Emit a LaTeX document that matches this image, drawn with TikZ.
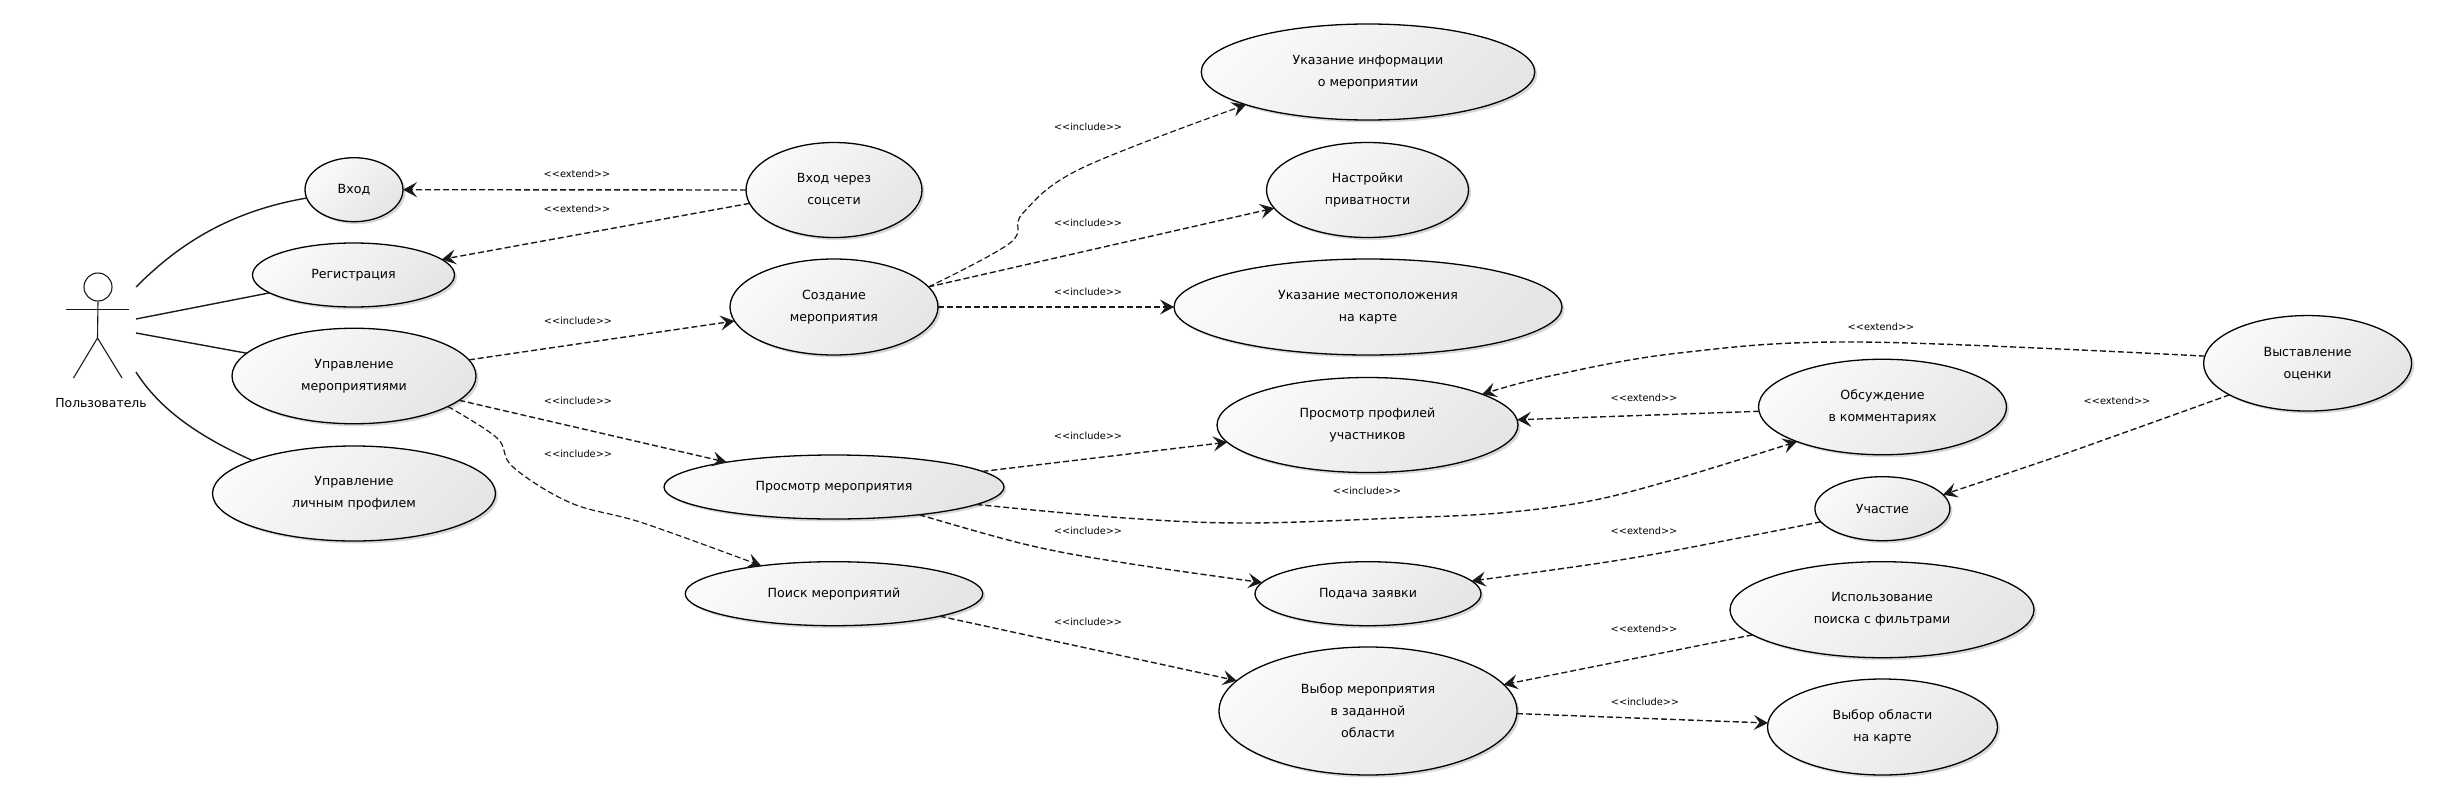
\documentclass[tikz,border=0pt]{standalone}
\usepackage{fontspec}
\setmainfont{DejaVu Sans}
\usetikzlibrary{shapes.geometric,arrows.meta,shadows}
\definecolor{inkc}{HTML}{1A1A1A}
\tikzset{
  uc/.style={ellipse,draw=black,line width=1.3pt,inner sep=0pt,outer sep=0pt,align=center,
    top color=white!98!black,bottom color=black!10,shading angle=45,
    drop shadow={shadow xshift=2.5pt,shadow yshift=-2.5pt,fill=black!35,opacity=.45},
    font=\fontsize{12.6}{22}\selectfont,text=black},
  tag/.style={font=\fontsize{9.8}{12}\selectfont,text=black,inner sep=0pt},
  dep/.style={-{Stealth[length=14pt,width=15pt,inset=5.5pt]},dash pattern=on 6pt off 3pt,line width=1.4pt,draw=inkc},
  assoc/.style={line width=1.4pt,draw=inkc},
  stick/.style={line width=1.1pt,draw=inkc},
}
\newcommand{\uc}[6]{\node[uc,minimum width=#3pt,minimum height=#4pt] (#5) at (#1,#2) {#6};}
\begin{document}
\begin{tikzpicture}[x=1pt,y=-1pt]
\useasboundingbox (0,0) rectangle (2438,800);
% actor
\node[ellipse,draw=inkc,line width=1.1pt,minimum width=28pt,minimum height=28pt,inner sep=0pt] (head) at (98,287) {};
\coordinate (hip) at (97.5,338);
\coordinate (handl) at (66,309.7);
\coordinate (handr) at (129,309.7);
\coordinate (footl) at (73.5,378);
\coordinate (footr) at (122,378);
\draw[stick] (head.south) -- (hip);
\draw[stick] (handl) -- (handr);
\draw[stick] (footl) -- (hip) -- (footr);
\node[font=\fontsize{12.4}{16}\selectfont,inner sep=0pt] (actorname) at (101,403) {Пользователь};
\coordinate (a1) at (136,287);
\coordinate (a2) at (136,319);
\coordinate (a3) at (136,333);
\coordinate (a4) at (136,372);
% use cases
\uc{354}{189.7}{98}{64}{vhod}{Вход}
\uc{353.5}{275}{202}{64}{reg}{Регистрация}
\uc{354}{376}{244}{95.5}{upr}{Управление\\мероприятиями}
\uc{354}{493.5}{283}{95}{lich}{Управление\\личным профилем}
\uc{834}{190}{176}{95}{vs}{Вход через\\соцсети}
\uc{834}{307}{208}{96}{soz}{Создание\\мероприятия}
\uc{834}{487}{340}{64}{pm}{Просмотр мероприятия}
\uc{834}{593.7}{297.5}{64}{poisk}{Поиск мероприятий}
\uc{1368}{72}{333.5}{96}{ui}{Указание информации\\о мероприятии}
\uc{1367.5}{190}{202}{95}{nast}{Настройки\\приватности}
\uc{1368}{307}{388}{96}{um}{Указание местоположения\\на карте}
\uc{1367.5}{425}{301}{95}{pp}{Просмотр профилей\\участников}
\uc{1368}{593.7}{226}{64}{pz}{Подача заявки}
\uc{1368}{711}{298}{128}{vm}{Выбор мероприятия\\в заданной\\области}
\uc{1882.5}{407}{248}{95.5}{obs}{Обсуждение\\в комментариях}
\uc{1882.4}{508.7}{135}{64}{uch}{Участие}
\uc{1882}{609.7}{304}{96}{isp}{Использование\\поиска с фильтрами}
\uc{1882.5}{727}{230}{96}{vo}{Выбор области\\на карте}
\uc{2307.6}{363.3}{208}{95.5}{vyst}{Выставление\\оценки}
% associations
\draw[assoc] (a1) .. controls (175,248) and (225,212) .. (vhod.190);
\draw[assoc] (a2) -- (reg.192);
\draw[assoc] (a3) -- (upr.168.6);
\draw[assoc] (a4) .. controls (160,410) and (200,437) .. (lich.162);
% dependencies
\draw[dep] (vs.180) -- (vhod.0);
\draw[dep] (vs.189.9) -- (reg.10.8);
\draw[dep] (upr.8.4) -- (soz.188.7);
\draw[dep] (upr.-13.4) -- (pm.167.2);
\draw[dep,line width=1.2pt] plot[smooth,tension=.6] coordinates {(upr.-18) (497,438) (513,467) (571,503) (643,523) (poisk.159.5)};
\draw[dep,line width=1.2pt] plot[smooth,tension=.6] coordinates {(soz.12) (1010,243) (1023,213) (1082,168) (ui.195.1)};
\draw[dep] (soz.12) -- (nast.191.7);
\draw[dep] (soz.0) -- (um.180);
\draw[dep] (pm.6.3) -- (pp.187);
\draw[dep] plot[smooth,tension=.6] coordinates {(pm.-7.2) (1125,518) (1246,523) (1398,518) (1500,513) (1590,501) (1679,478) (obs.202)};
\draw[dep] plot[smooth,tension=.6] coordinates {(pm.-18.9) (1028,545) (1125,563) (pz.174.3)};
\draw[dep] (poisk.-12.4) -- (vm.167.8);
\draw[dep] (vm.-1.9) -- (vo.178.5);
\draw[dep] (isp.191) -- (vm.11.7);
\draw[dep] plot[smooth,tension=.6] coordinates {(uch.192.7) (1739,538) (1620,560) (pz.7.1)};
\draw[dep] (obs.182.3) -- (pp.2.3);
\draw[dep] plot[smooth,tension=.6] coordinates {(vyst.176.5) (1859,342) (1679,353) (1550,376) (pp.15.4)};
\draw[dep] plot[smooth,tension=.6] coordinates {(vyst.202.2) (2098,442) (2038,463) (uch.13.9)};
% labels
\node[tag] (t1) at (577,174) {<{}<extend>{}>};
\node[tag] (t2) at (577,209) {<{}<extend>{}>};
\node[tag] (t3) at (578,321) {<{}<include>{}>};
\node[tag] (t4) at (578,401) {<{}<include>{}>};
\node[tag] (t5) at (578,454) {<{}<include>{}>};
\node[tag] (t6) at (1088,127) {<{}<include>{}>};
\node[tag] (t7) at (1088,223) {<{}<include>{}>};
\node[tag] (t8) at (1088,292) {<{}<include>{}>};
\node[tag] (t9) at (1088,436) {<{}<include>{}>};
\node[tag] (t10) at (1367,491) {<{}<include>{}>};
\node[tag] (t11) at (1088,531) {<{}<include>{}>};
\node[tag] (t12) at (1088,622) {<{}<include>{}>};
\node[tag] (t13) at (1881,327) {<{}<extend>{}>};
\node[tag] (t14) at (1644,398) {<{}<extend>{}>};
\node[tag] (t15) at (2117,401) {<{}<extend>{}>};
\node[tag] (t16) at (1644,531) {<{}<extend>{}>};
\node[tag] (t17) at (1644,629) {<{}<extend>{}>};
\node[tag] (t18) at (1645,702) {<{}<include>{}>};
\end{tikzpicture}
\end{document}
